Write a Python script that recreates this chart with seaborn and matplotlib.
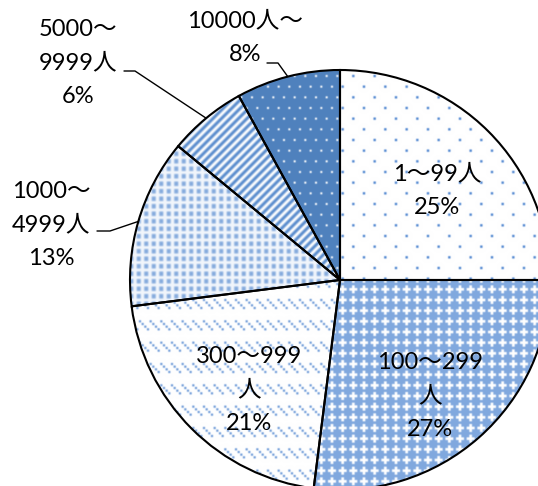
import math
import numpy as np
import matplotlib
matplotlib.use("Agg")
import matplotlib.pyplot as plt
import seaborn as sns

# ---- data -------------------------------------------------------------
categories = ["1～99人", "100～299人", "300～999人",
              "1000～4999人", "5000～9999人", "10000人～"]
shares = [25, 27, 21, 13, 6, 8]
# how each category name is broken over lines in its label
label_lines = [["1～99人"], ["100～299", "人"], ["300～999", "人"],
               ["1000～", "4999人"], ["5000～", "9999人"], ["10000人～"]]

# ---- layout (pixels) ---------------------------------------------------
W, H = 538, 486
CX, CY, R = 340, 280, 210            # pie centre and radius
label_px = [(437, 191), (430, 396), (249, 390), (51, 225), (78, 63), (245, 38)]
leader_px = {3: [(97, 231), (110, 231)],
             4: [(124, 71), (135, 71)],
             5: [(267, 63), (278, 63)]}


def to_data(p):
    return ((p[0] - CX) / R, (CY - p[1]) / R)


# ---- pattern fills -----------------------------------------------------
S = 8 / 3                             # size of one pattern cell in pixels
verf = np.vectorize(math.erf)
xs = np.arange(W) + 0.5
ys = np.arange(H) + 0.5


def box(d, w, sig):
    k = math.sqrt(2) * sig
    return 0.5 * (verf((d + w / 2) / k) - verf((d - w / 2) / k))


def wrap(d, period):
    return (d + period / 2) % period - period / 2


def tile_cover(cells, size, cell, wx, wy, sig):
    period = size * cell
    cov = np.zeros((H, W))
    for r, c in cells:
        ax_ = box(wrap(xs - (c + 0.5) * cell, period), wx, sig)
        ay_ = box(wrap(ys - (r + 0.5) * cell, period), wy, sig)
        cov += np.outer(ay_, ax_)
    return np.clip(cov, 0, 1)


def paint(cov, fg, bg):
    fg = np.array(matplotlib.colors.to_rgb(fg))
    bg = np.array(matplotlib.colors.to_rgb(bg))
    c = cov[..., None]
    return bg * (1 - c) + fg * c


def stripes(period_x, sig):
    u = (xs[None, :] + ys[:, None]) / math.sqrt(2)
    pp = period_x / math.sqrt(2)
    return np.clip(box(wrap(u, pp), pp / 2, sig), 0, 1)


tex = [
    paint(tile_cover([(0, 0), (4, 4)], 8, S, 2.4, 2.4, 0.6), "#4f86d0", "white"),
    paint(tile_cover([(0, 0), (0, 1), (1, 0), (0, 3), (3, 0)], 4, S, S, S, 0.6),
          "white", "#80a8de"),
    paint(tile_cover([(0, 0), (0, 4), (1, 1), (1, 5), (2, 2), (2, 6), (3, 3), (3, 7)],
                     8, S, 2.2, 2.2, 0.6), "#6e9bd8", "white"),
    paint(tile_cover([(0, 0)], 1, 7.5, 4.0, 4.5, 0.8), "#84aadd", "#f2f6fc"),
    paint(stripes(8.5, 0.8), "#5589cc", "white"),
    paint(tile_cover([(0, 0), (0, 4), (4, 2), (4, 6)], 8, S, 2.0, 2.0, 0.6),
          "white", "#4f81bd"),
]

# ---- figure ------------------------------------------------------------
sns.set_theme(style="white")
plt.rcParams["font.family"] = ["Lato", "Noto Sans CJK JP", "DejaVu Sans"]

fig = plt.figure(figsize=(W / 100, H / 100), dpi=100)
ax = fig.add_axes([0, 0, 1, 1])

xlim = (-CX / R, (W - CX) / R)
ylim = (-(H - CY) / R, CY / R)

wedges, _ = ax.pie(shares, startangle=90, counterclock=False, radius=1,
                   center=(0, 0),
                   wedgeprops=dict(facecolor="none", edgecolor="black",
                                   linewidth=1.5, zorder=2))

for wedge, img in zip(wedges, tex):
    im = ax.imshow(img, extent=(xlim[0], xlim[1], ylim[0], ylim[1]),
                   origin="upper", interpolation="nearest", zorder=1)
    im.set_clip_path(wedge)

for i, (lines, share) in enumerate(zip(label_lines, shares)):
    x, y = to_data(label_px[i])
    ax.text(x, y, "\n".join(lines + [f"{share}%"]), ha="center", va="center",
            fontsize=17, linespacing=1.75, color="black", zorder=3)
    if i in leader_px:
        w = wedges[i]
        mid = math.radians((w.theta1 + w.theta2) / 2)
        pts = [to_data(p) for p in leader_px[i]] + [(math.cos(mid), math.sin(mid))]
        ax.plot([p[0] for p in pts], [p[1] for p in pts], color="black",
                linewidth=1.0, zorder=3)

ax.set_xlim(*xlim)
ax.set_ylim(*ylim)
ax.set_aspect("auto")
ax.axis("off")

fig.savefig("out.png", dpi=100)
